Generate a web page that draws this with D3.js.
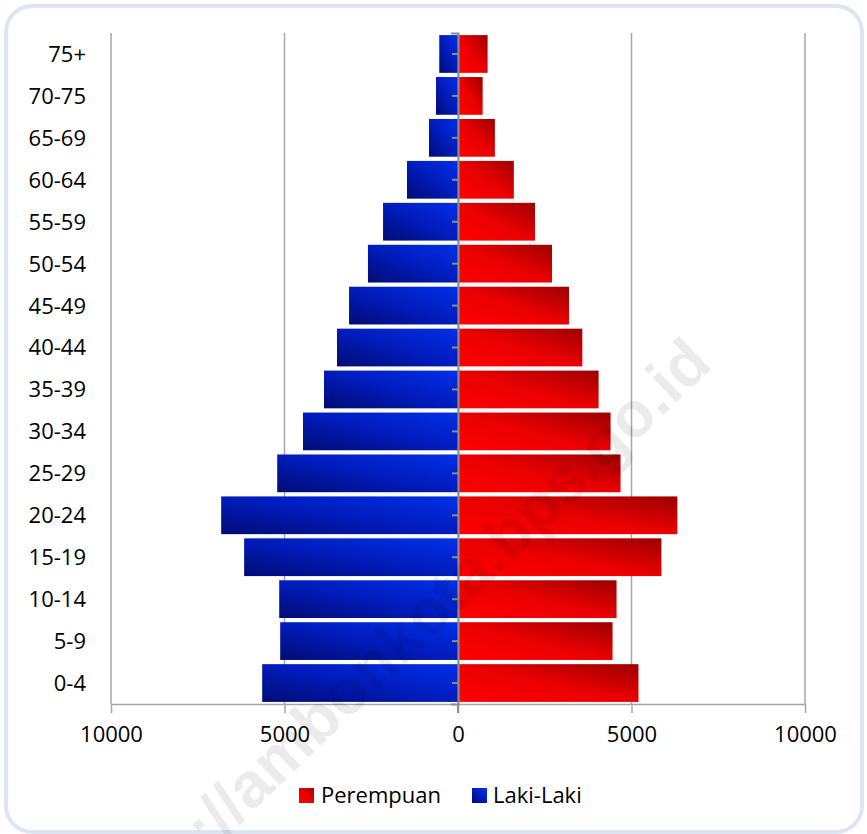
<!DOCTYPE html>
<html><head><meta charset="utf-8">
<script src="https://cdn.jsdelivr.net/npm/d3@7"></script>
<style>body{margin:0;background:#fff}</style>
</head><body><svg id="c" width="867" height="834"></svg>
<script>
const categories = ["75+","70-75","65-69","60-64","55-59","50-54","45-49","40-44","35-39","30-34","25-29","20-24","15-19","10-14","5-9","0-4"];
const lakiLaki = [540,634,836,1470,2160,2595,3140,3487,3862,4467,5210,6825,6163,5152,5124,5643];
const perempuan = [853,710,1063,1609,2219,2709,3199,3583,4052,4397,4684,6322,5862,4569,4454,5201];
const xTicks = [-10000,-5000,0,5000,10000];
const seriesNames = ["Perempuan","Laki-Laki"];
const watermark = "http://ambonkota.bps.go.id";

(function(){
const svg = d3.select("#c");
const FONT = "'Open Sans', sans-serif";
const defs = svg.append("defs");
function grad(id, stops){
  const g = defs.append("linearGradient").attr("id", id)
    .attr("x1",0).attr("y1",1).attr("x2",1).attr("y2",0);
  stops.forEach(s => g.append("stop").attr("offset", s[0]).attr("stop-color", s[1]));
}
grad("gBlue", [[0,"#000c74"],[0.5,"#001cbc"],[1,"#0030e8"]]);
grad("gRed", [[0,"#ff0000"],[0.5,"#ea0000"],[1,"#9c0000"]]);

// frame
svg.append("rect").attr("x",6).attr("y",6).attr("width",856).attr("height",826)
  .attr("rx",26).attr("fill","#fff").attr("stroke","#dce5f1").attr("stroke-width",4);

const x = d3.scaleLinear().domain([-10000,10000]).range([111,805]);
const y = d3.scaleBand().domain(categories).range([33,704]).paddingInner(0.1).paddingOuter(0.05);
const pTop = 33, pBottom = 704;

// gridlines
svg.append("g").selectAll("line").data(xTicks.filter(d=>d!==0)).join("line")
  .attr("x1",d=>x(d)).attr("x2",d=>x(d)).attr("y1",pTop).attr("y2",pBottom)
  .attr("stroke","#a6a6a6").attr("stroke-width",1.5);

// bars
const rows = categories.map((c,i)=>({c, m:lakiLaki[i], f:perempuan[i]}));
svg.append("g").selectAll("rect").data(rows).join("rect")
  .attr("x",d=>x(-d.m)).attr("width",d=>x(0)-x(-d.m)).attr("y",d=>y(d.c)).attr("height",y.bandwidth())
  .attr("fill","url(#gBlue)");
svg.append("g").selectAll("rect").data(rows).join("rect")
  .attr("x",x(0)).attr("width",d=>x(d.f)-x(0)).attr("y",d=>y(d.c)).attr("height",y.bandwidth())
  .attr("fill","url(#gRed)");

// x axis
const xa = svg.append("g").attr("transform",`translate(0,${pBottom})`)
  .call(d3.axisBottom(x).tickValues(xTicks).tickSize(9).tickSizeOuter(0).tickFormat(d=>Math.abs(d)));
xa.select(".domain").attr("stroke","#a6a6a6").attr("stroke-width",1.5);
xa.selectAll(".tick line").attr("stroke","#a6a6a6").attr("stroke-width",1.5);
xa.selectAll("text").attr("font-family",FONT).attr("font-size",22).attr("fill","#000").attr("y",22).attr("dy","0.71em");

// category axis at zero
const ya = svg.append("g").attr("transform",`translate(${x(0)},0)`)
  .call(d3.axisLeft(y).tickSize(6).tickSizeOuter(7).tickFormat(""));
ya.select(".domain").attr("stroke","#8c8c8c").attr("stroke-width",2.2);
ya.selectAll(".tick line").attr("stroke","#8c8c8c").attr("stroke-width",2);
svg.append("line").attr("x1",x(0)).attr("x2",x(0)).attr("y1",pBottom).attr("y2",pBottom+9)
  .attr("stroke","#8c8c8c").attr("stroke-width",2);

// category labels
svg.append("g").selectAll("text").data(categories).join("text")
  .attr("x",86).attr("y",d=>y(d)+y.bandwidth()/2).attr("dy","0.36em")
  .attr("text-anchor","end").attr("font-family",FONT).attr("font-size",22).attr("fill","#000")
  .text(d=>d);

// legend
const leg = [{n:seriesNames[0], f:"url(#gRed)", x:299, tx:321},{n:seriesNames[1], f:"url(#gBlue)", x:472, tx:493}];
const lg = svg.append("g");
lg.selectAll("rect").data(leg).join("rect").attr("x",d=>d.x).attr("y",788).attr("width",15).attr("height",15).attr("fill",d=>d.f);
lg.selectAll("text").data(leg).join("text").attr("x",d=>d.tx).attr("y",803)
  .attr("font-family",FONT).attr("font-size",22).attr("fill","#000").text(d=>d.n);

// watermark
svg.append("text").attr("transform","translate(714,366) rotate(-44)")
  .attr("text-anchor","end").attr("font-family","'Liberation Sans', Arial, sans-serif")
  .attr("font-weight","bold").attr("font-size",64).attr("fill","#000").attr("fill-opacity",0.08)
  .text(watermark);
})();
</script></body></html>
